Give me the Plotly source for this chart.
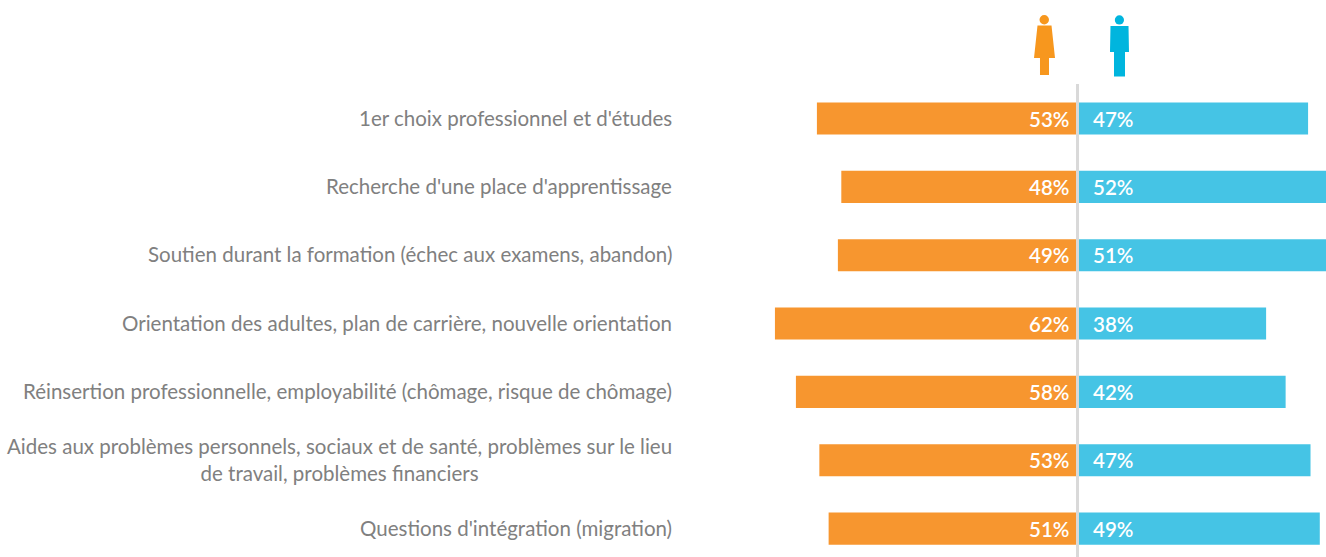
import plotly.graph_objects as go

categories = [
    "1er choix professionnel et d'études",
    "Recherche d'une place d'apprentissage",
    "Soutien durant la formation (échec aux examens, abandon)",
    "Orientation des adultes, plan de carrière, nouvelle orientation",
    "Réinsertion professionnelle, employabilité (chômage, risque de chômage)",
    "Aides aux problèmes personnels, sociaux et de santé, problèmes sur le lieu<br>de travail, problèmes financiers",
    "Questions d'intégration (migration)",
]
# printed percentages
femmes_labels = [53, 48, 49, 62, 58, 53, 51]
hommes_labels = [47, 52, 51, 38, 42, 47, 49]
# bar lengths (unrounded shares behind the labels)
femmes = [53.4, 48.4, 49.1, 62.0, 57.7, 52.9, 51.0]
hommes = [47.0, 52.0, 51.0, 38.4, 42.4, 47.5, 49.4]

W, H = 1326, 557
X0, PX = 1077.5, 4.88
Y0, STEP = 118.5, 68.35
ORANGE, BLUE = "#F7962F", "#45C4E5"
FONT = "Lato"

def xpaper(px):
    return px / W

def ypaper(py):
    return 1 - py / H

fig = go.Figure()
idx = list(range(len(categories)))
fig.add_bar(y=idx, x=[-v for v in femmes], orientation="h", width=0.47,
            marker=dict(color=ORANGE, line_width=0), name="Femmes", hoverinfo="skip")
fig.add_bar(y=idx, x=hommes, orientation="h", width=0.47, base=0.25,
            marker=dict(color=BLUE, line_width=0), name="Hommes", hoverinfo="skip")

ann = []
for i, c in enumerate(categories):
    ann.append(dict(x=-83.1, y=i, xref="x", yref="y", text=c, showarrow=False, xanchor="right",
                    xshift=2, yshift=1, align="center",
                    font=dict(family=FONT, size=20.5, color="#808080")))
    ann.append(dict(x=0, y=i, xref="x", yref="y", text=f"{femmes_labels[i]}%", showarrow=False, xanchor="right",
                    xshift=-7, font=dict(family=FONT, size=20.5, color="white", weight=600)))
    ann.append(dict(x=0, y=i, xref="x", yref="y", text=f"{hommes_labels[i]}%", showarrow=False, xanchor="left",
                    xshift=13, font=dict(family=FONT, size=20.5, color="white", weight=600)))

def poly(pts):
    return "M " + " L ".join(f"{xpaper(a):.5f},{ypaper(b):.5f}" for a, b in pts) + " Z"

shapes = [
    dict(type="line", xref="x", x0=0, x1=0, yref="paper", y0=0, y1=ypaper(84),
         line=dict(color="#D9D9D9", width=3), layer="above"),
    # woman icon
    dict(type="circle", xref="paper", yref="paper", x0=xpaper(1039.5), x1=xpaper(1049),
         y0=ypaper(24.5), y1=ypaper(15), fillcolor="#F7971E", line_width=0),
    dict(type="path", xref="paper", yref="paper", fillcolor="#F7971E", line_width=0,
         path=poly([(1037.5, 25.5), (1051.5, 25.5), (1055, 58), (1049, 58), (1049, 75),
                    (1040, 75), (1040, 58), (1034, 58)])),
    # man icon
    dict(type="circle", xref="paper", yref="paper", x0=xpaper(1114.8), x1=xpaper(1124),
         y0=ypaper(24.5), y1=ypaper(15.3), fillcolor="#00B5DE", line_width=0),
    dict(type="path", xref="paper", yref="paper", fillcolor="#00B5DE", line_width=0,
         path=poly([(1110.5, 26), (1128.5, 26), (1129, 52), (1125, 52), (1125, 76.5),
                    (1114, 76.5), (1114, 52), (1110, 52)])),
]

fig.update_layout(
    width=W, height=H, margin=dict(l=0, r=0, t=0, b=0), barmode="overlay",
    paper_bgcolor="white", plot_bgcolor="white", showlegend=False,
    xaxis=dict(range=[-X0 / PX, (W - X0) / PX], visible=False, fixedrange=True),
    yaxis=dict(range=[(H - Y0) / STEP, -Y0 / STEP], visible=False, fixedrange=True),
    annotations=ann, shapes=shapes,
)
fig.write_html("out.html", config={"displayModeBar": False},
               post_script="document.body.style.margin='0';document.body.style.overflow='hidden';")
